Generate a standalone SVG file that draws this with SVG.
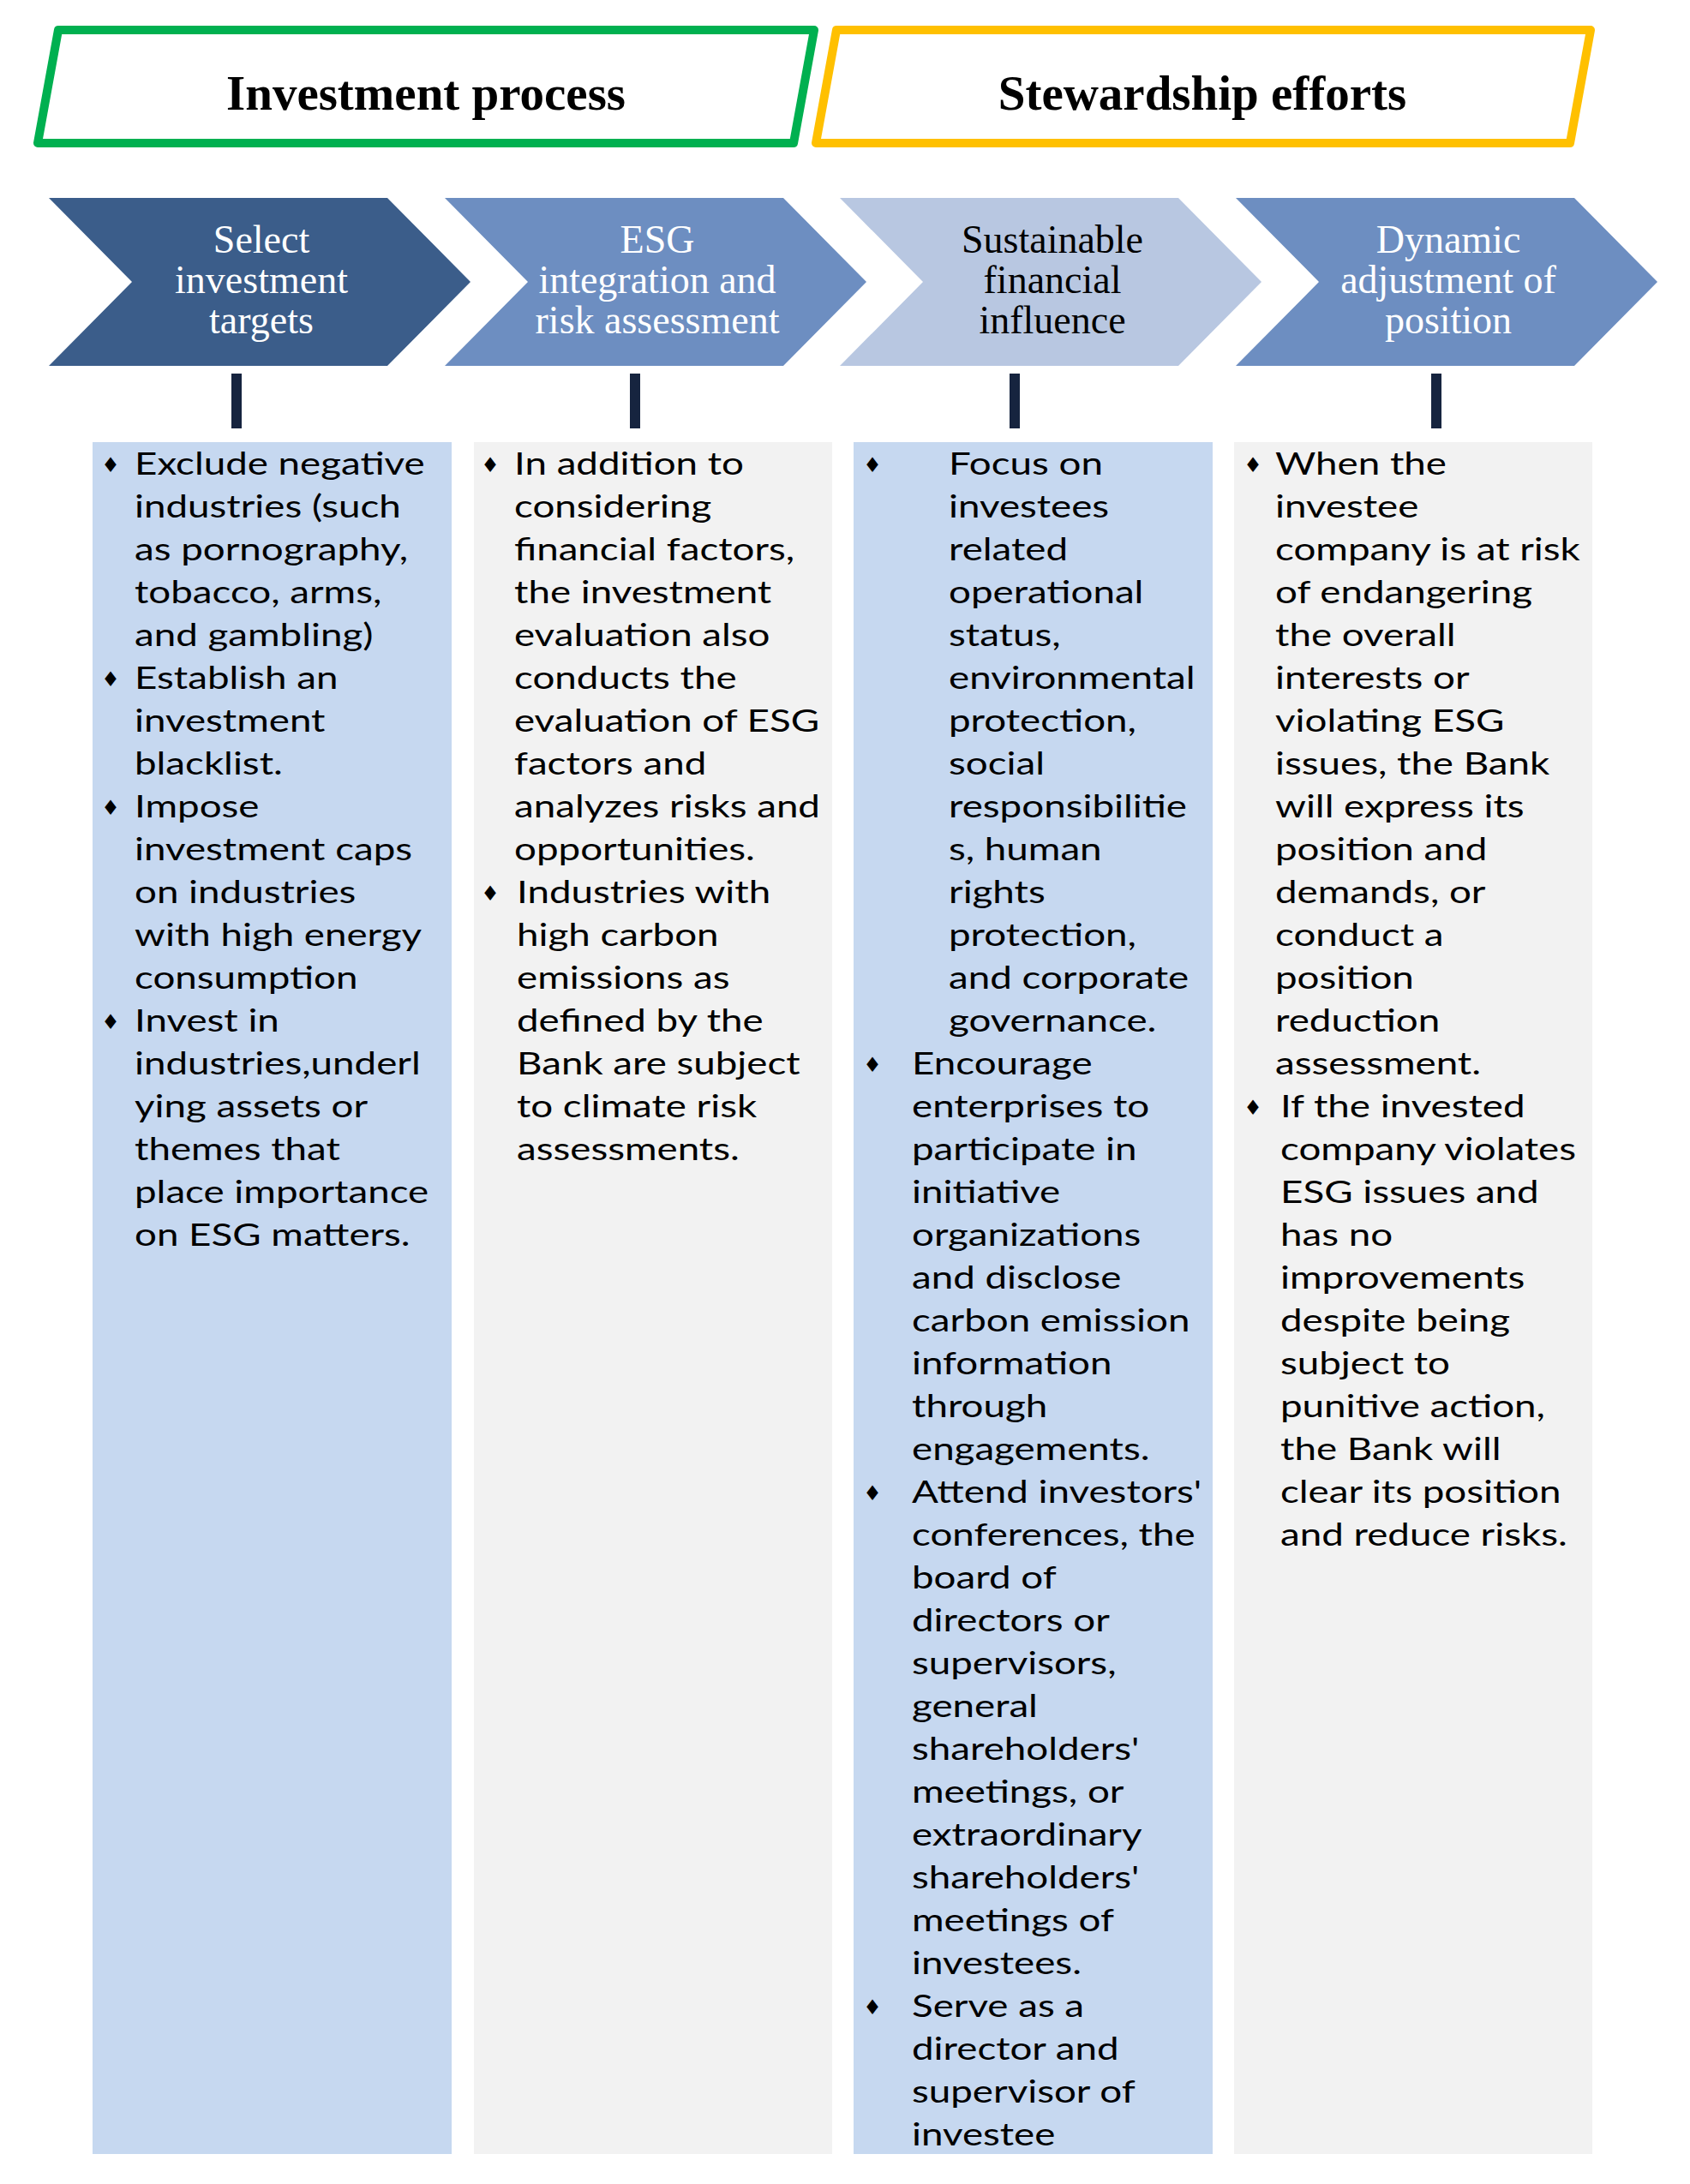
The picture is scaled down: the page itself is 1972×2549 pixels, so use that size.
<svg xmlns="http://www.w3.org/2000/svg" width="1972" height="2549" viewBox="0 0 1972 2549">
<style>
.title{font-family:"Liberation Serif","Times New Roman",serif;font-weight:bold;font-size:57px;fill:#000;text-anchor:middle}
.chev{font-family:"Liberation Serif","Times New Roman",serif;font-size:46px;text-anchor:middle}
.body{font-family:Lato,"Open Sans",sans-serif;font-size:36px;fill:#000}
.bul{font-family:"DejaVu Sans",sans-serif;font-size:24px;fill:#000;text-anchor:middle}
.blue{fill:#C6D8F0}
.grey{fill:#F2F2F2}
</style>
<rect width="1972" height="2549" fill="#fff"/>
<g id="header-investment">
<polygon points="68,35 950,35 926,167 44,167" fill="#fff" stroke="#00B050" stroke-width="10" stroke-linejoin="round"/>
<text class="title" x="497" y="128">Investment process</text>
</g>
<g id="header-stewardship">
<polygon points="976,35 1856,35 1832,167 952,167" fill="#fff" stroke="#FFC000" stroke-width="10" stroke-linejoin="round"/>
<text class="title" x="1403" y="128">Stewardship efforts</text>
</g>
<g id="step-select">
<polygon points="57,231 452,231 549,329 452,427 57,427 154,329" fill="#3B5D8A"/>
<text class="chev" fill="#fff"><tspan x="305" y="295">Select</tspan><tspan x="305" y="342">investment</tspan><tspan x="305" y="389">targets</tspan></text>
</g>
<g id="step-esg">
<polygon points="519,231 914,231 1011,329 914,427 519,427 616,329" fill="#6D8EC1"/>
<text class="chev" fill="#fff"><tspan x="767" y="295">ESG</tspan><tspan x="767" y="342">integration and</tspan><tspan x="767" y="389">risk assessment</tspan></text>
</g>
<g id="step-sustainable">
<polygon points="980,231 1375,231 1472,329 1375,427 980,427 1077,329" fill="#B8C7E1"/>
<text class="chev" fill="#000"><tspan x="1228" y="295">Sustainable</tspan><tspan x="1228" y="342">financial</tspan><tspan x="1228" y="389">influence</tspan></text>
</g>
<g id="step-dynamic">
<polygon points="1442,231 1837,231 1934,329 1837,427 1442,427 1539,329" fill="#6D8EC1"/>
<text class="chev" fill="#fff"><tspan x="1690" y="295">Dynamic</tspan><tspan x="1690" y="342">adjustment of</tspan><tspan x="1690" y="389">position</tspan></text>
</g>
<g id="connectors" fill="#16243F">
<rect x="270" y="436" width="12" height="64"/>
<rect x="735" y="436" width="12" height="64"/>
<rect x="1178" y="436" width="12" height="64"/>
<rect x="1670" y="436" width="12" height="64"/>
</g>
<g id="col-select">
<rect class="blue" x="108" y="516" width="419" height="1998"/>
<text class="bul" x="129" y="551">♦</text>
<text class="bul" x="129" y="801">♦</text>
<text class="bul" x="129" y="951">♦</text>
<text class="bul" x="129" y="1201">♦</text>
<text class="body" transform="matrix(1.27 0 0 1 157 0)"><tspan x="0" y="554">Exclude negative</tspan><tspan x="0" y="604">industries (such</tspan><tspan x="0" y="654">as pornography,</tspan><tspan x="0" y="704">tobacco, arms,</tspan><tspan x="0" y="754">and gambling)</tspan></text>
<text class="body" transform="matrix(1.27 0 0 1 157 0)"><tspan x="0" y="804">Establish an</tspan><tspan x="0" y="854">investment</tspan><tspan x="0" y="904">blacklist.</tspan></text>
<text class="body" transform="matrix(1.27 0 0 1 157 0)"><tspan x="0" y="954">Impose</tspan><tspan x="0" y="1004">investment caps</tspan><tspan x="0" y="1054">on industries</tspan><tspan x="0" y="1104">with high energy</tspan><tspan x="0" y="1154">consumption</tspan></text>
<text class="body" transform="matrix(1.27 0 0 1 157 0)"><tspan x="0" y="1204">Invest in</tspan><tspan x="0" y="1254">industries,underl</tspan><tspan x="0" y="1304">ying assets or</tspan><tspan x="0" y="1354">themes that</tspan><tspan x="0" y="1404">place importance</tspan><tspan x="0" y="1454">on ESG matters.</tspan></text>
</g>
<g id="col-esg">
<rect class="grey" x="553" y="516" width="418" height="1998"/>
<text class="bul" x="572" y="551">♦</text>
<text class="bul" x="572" y="1051">♦</text>
<text class="body" transform="matrix(1.27 0 0 1 600 0)"><tspan x="0" y="554">In addition to</tspan><tspan x="0" y="604">considering</tspan><tspan x="0" y="654">financial factors,</tspan><tspan x="0" y="704">the investment</tspan><tspan x="0" y="754">evaluation also</tspan><tspan x="0" y="804">conducts the</tspan><tspan x="0" y="854">evaluation of ESG</tspan><tspan x="0" y="904">factors and</tspan><tspan x="0" y="954">analyzes risks and</tspan><tspan x="0" y="1004">opportunities.</tspan></text>
<text class="body" transform="matrix(1.27 0 0 1 603 0)"><tspan x="0" y="1054">Industries with</tspan><tspan x="0" y="1104">high carbon</tspan><tspan x="0" y="1154">emissions as</tspan><tspan x="0" y="1204">defined by the</tspan><tspan x="0" y="1254">Bank are subject</tspan><tspan x="0" y="1304">to climate risk</tspan><tspan x="0" y="1354">assessments.</tspan></text>
</g>
<g id="col-sustainable">
<rect class="blue" x="996" y="516" width="419" height="1998"/>
<text class="bul" x="1018" y="551">♦</text>
<text class="bul" x="1018" y="1251">♦</text>
<text class="bul" x="1018" y="1751">♦</text>
<text class="bul" x="1018" y="2351">♦</text>
<text class="body" transform="matrix(1.27 0 0 1 1107 0)"><tspan x="0" y="554">Focus on</tspan><tspan x="0" y="604">investees</tspan><tspan x="0" y="654">related</tspan><tspan x="0" y="704">operational</tspan><tspan x="0" y="754">status,</tspan><tspan x="0" y="804">environmental</tspan><tspan x="0" y="854">protection,</tspan><tspan x="0" y="904">social</tspan><tspan x="0" y="954">responsibilitie</tspan><tspan x="0" y="1004">s, human</tspan><tspan x="0" y="1054">rights</tspan><tspan x="0" y="1104">protection,</tspan><tspan x="0" y="1154">and corporate</tspan><tspan x="0" y="1204">governance.</tspan></text>
<text class="body" transform="matrix(1.27 0 0 1 1064 0)"><tspan x="0" y="1254">Encourage</tspan><tspan x="0" y="1304">enterprises to</tspan><tspan x="0" y="1354">participate in</tspan><tspan x="0" y="1404">initiative</tspan><tspan x="0" y="1454">organizations</tspan><tspan x="0" y="1504">and disclose</tspan><tspan x="0" y="1554">carbon emission</tspan><tspan x="0" y="1604">information</tspan><tspan x="0" y="1654">through</tspan><tspan x="0" y="1704">engagements.</tspan></text>
<text class="body" transform="matrix(1.27 0 0 1 1064 0)"><tspan x="0" y="1754">Attend investors'</tspan><tspan x="0" y="1804">conferences, the</tspan><tspan x="0" y="1854">board of</tspan><tspan x="0" y="1904">directors or</tspan><tspan x="0" y="1954">supervisors,</tspan><tspan x="0" y="2004">general</tspan><tspan x="0" y="2054">shareholders'</tspan><tspan x="0" y="2104">meetings, or</tspan><tspan x="0" y="2154">extraordinary</tspan><tspan x="0" y="2204">shareholders'</tspan><tspan x="0" y="2254">meetings of</tspan><tspan x="0" y="2304">investees.</tspan></text>
<text class="body" transform="matrix(1.27 0 0 1 1064 0)"><tspan x="0" y="2354">Serve as a</tspan><tspan x="0" y="2404">director and</tspan><tspan x="0" y="2454">supervisor of</tspan><tspan x="0" y="2504">investee</tspan></text>
</g>
<g id="col-dynamic">
<rect class="grey" x="1440" y="516" width="418" height="1998"/>
<text class="bul" x="1462" y="551">♦</text>
<text class="bul" x="1462" y="1301">♦</text>
<text class="body" transform="matrix(1.27 0 0 1 1488 0)"><tspan x="0" y="554">When the</tspan><tspan x="0" y="604">investee</tspan><tspan x="0" y="654">company is at risk</tspan><tspan x="0" y="704">of endangering</tspan><tspan x="0" y="754">the overall</tspan><tspan x="0" y="804">interests or</tspan><tspan x="0" y="854">violating ESG</tspan><tspan x="0" y="904">issues, the Bank</tspan><tspan x="0" y="954">will express its</tspan><tspan x="0" y="1004">position and</tspan><tspan x="0" y="1054">demands, or</tspan><tspan x="0" y="1104">conduct a</tspan><tspan x="0" y="1154">position</tspan><tspan x="0" y="1204">reduction</tspan><tspan x="0" y="1254">assessment.</tspan></text>
<text class="body" transform="matrix(1.27 0 0 1 1494 0)"><tspan x="0" y="1304">If the invested</tspan><tspan x="0" y="1354">company violates</tspan><tspan x="0" y="1404">ESG issues and</tspan><tspan x="0" y="1454">has no</tspan><tspan x="0" y="1504">improvements</tspan><tspan x="0" y="1554">despite being</tspan><tspan x="0" y="1604">subject to</tspan><tspan x="0" y="1654">punitive action,</tspan><tspan x="0" y="1704">the Bank will</tspan><tspan x="0" y="1754">clear its position</tspan><tspan x="0" y="1804">and reduce risks.</tspan></text>
</g>
</svg>
